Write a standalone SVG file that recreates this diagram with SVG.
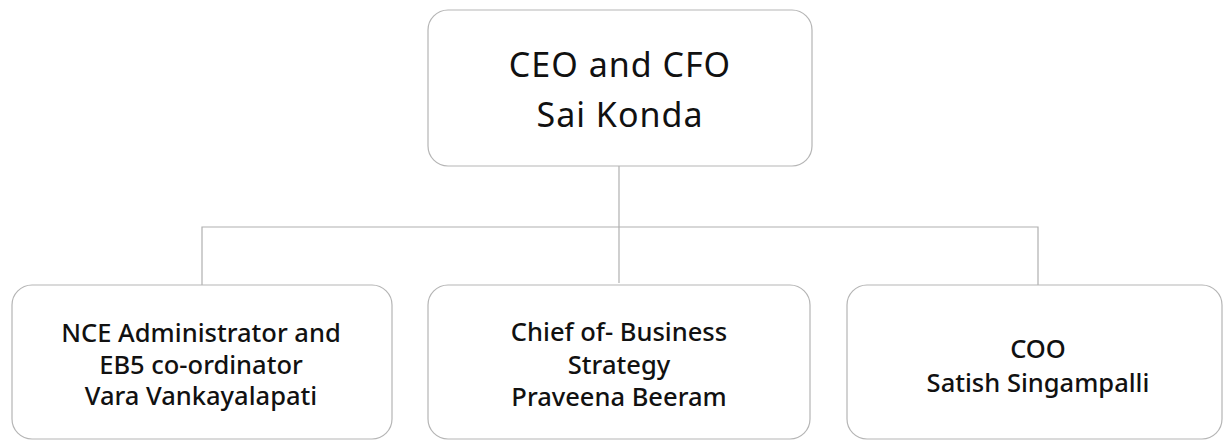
<svg xmlns="http://www.w3.org/2000/svg" width="1225" height="441" viewBox="0 0 1225 441">
  <style>
    .box { fill: #ffffff; stroke: #b5b5b5; stroke-width: 1.2; }
    .link { fill: none; stroke: #b0b0b0; stroke-width: 1.2; }
    .title { font-family: "Noto Sans", "Open Sans", sans-serif; font-size: 34px; letter-spacing: 1px; fill: #111; text-anchor: middle; }
    .label { font-family: "Noto Sans", "Open Sans", sans-serif; font-size: 25.5px; font-weight: 500; fill: #111; text-anchor: middle; }
  </style>
  <rect width="1225" height="441" fill="#ffffff"/>

  <g id="connectors">
    <path class="link" d="M619 166 V283"/>
    <path class="link" d="M202 285 V227 H1038 V285"/>
  </g>

  <g id="ceo">
    <rect class="box" x="428" y="10" width="384" height="156" rx="20"/>
    <text class="title" x="620" y="77">CEO and CFO</text>
    <text class="title" x="620" y="127">Sai Konda</text>
  </g>

  <g id="nce-admin">
    <rect class="box" x="12" y="285" width="380" height="154" rx="20"/>
    <text class="label" x="201" y="342">NCE Administrator and</text>
    <text class="label" x="201" y="374">EB5 co-ordinator</text>
    <text class="label" x="201" y="405">Vara Vankayalapati</text>
  </g>

  <g id="business-strategy">
    <rect class="box" x="428" y="285" width="382" height="154" rx="20"/>
    <text class="label" x="619" y="341">Chief of- Business</text>
    <text class="label" x="619" y="374">Strategy</text>
    <text class="label" x="619" y="406">Praveena Beeram</text>
  </g>

  <g id="coo">
    <rect class="box" x="847" y="285" width="375" height="154" rx="20"/>
    <text class="label" x="1038" y="358">COO</text>
    <text class="label" x="1038" y="392">Satish Singampalli</text>
  </g>
</svg>
